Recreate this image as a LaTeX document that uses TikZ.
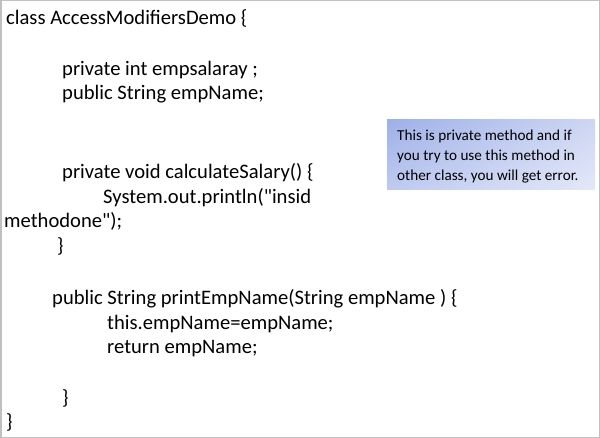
\documentclass[tikz,border=0pt]{standalone}
\usepackage{fontspec}
\setmainfont{Carlito}[Ligatures=TeXOff]
\usetikzlibrary{shadings}
\definecolor{bordergray}{RGB}{192,192,192}
\definecolor{nUL}{RGB}{158,176,232}
\definecolor{nUR}{RGB}{205,214,243}
\definecolor{nLL}{RGB}{190,202,240}
\definecolor{nLR}{RGB}{228,232,248}
\begin{document}
\begin{tikzpicture}[x=1pt,y=-1pt,
  code/.style={anchor=base west,inner sep=0pt,font=\fontsize{20.6}{24}\selectfont},
  note/.style={anchor=base west,inner sep=0pt,font=\fontsize{15.2}{18}\selectfont}]
\useasboundingbox (0,0) rectangle (600,438);
\draw[draw=bordergray,line width=1.5pt] (0.75,0.75) rectangle (599.25,437.25);
\shade[upper left=nUL,upper right=nUR,lower left=nLL,lower right=nLR] (387,120) rectangle (595,190);
\node[code] (l1) at (6,25) {class AccessModifiersDemo \{};
\node[code] (l2) at (62,76) {private int empsalaray ;};
\node[code] (l3) at (62,100) {public String empName;};
\node[code] (l4) at (62,179) {private void calculateSalary() \{};
\node[code] (l5) at (103,203.5) {System.out.println("insid};
\node[code] (l6) at (4,228) {methodone");};
\node[code] (l7) at (57,252.5) {\}};
\node[code] (l8) at (52,305) {public String printEmpName(String empName ) \{};
\node[code] (l9) at (107,329.5) {this.empName=empName;};
\node[code] (l10) at (107,353.5) {return empName;};
\node[code] (l11) at (62,404) {\}};
\node[code] (l12) at (6,428.5) {\}};
\node[note] (n1) at (397,141) {This is private method and if};
\node[note] (n2) at (397,161) {you try to use this method in};
\node[note] (n3) at (397,181) {other class, you will get error.};
\end{tikzpicture}
\end{document}
